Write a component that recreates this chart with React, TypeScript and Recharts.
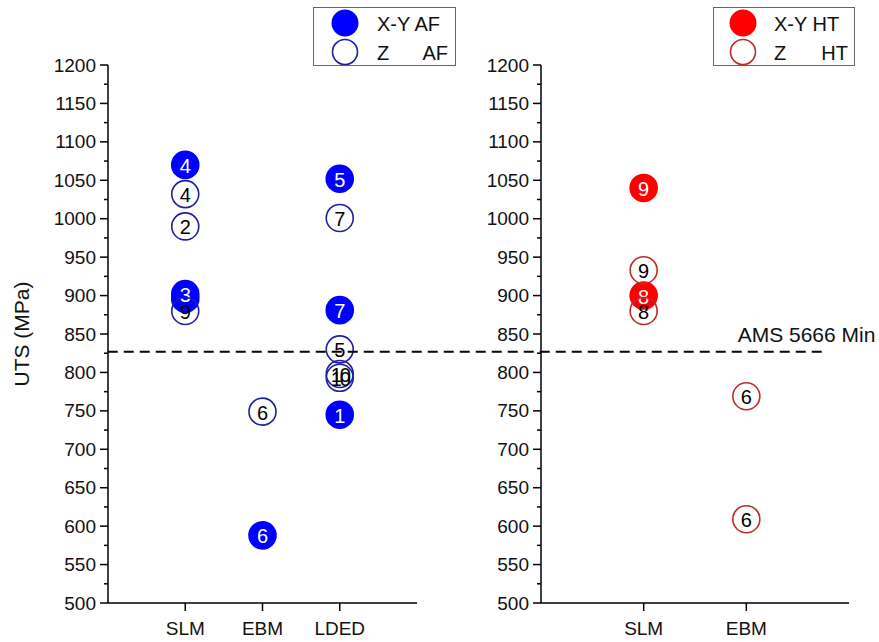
import React from 'react';
import { ScatterChart, Scatter, XAxis, YAxis, ReferenceLine, Legend } from 'recharts';

// ---- data ----
const leftCategories = ['SLM', 'EBM', 'LDED'];
const rightCategories = ['SLM', 'EBM'];
const yTicks = [500, 525, 550, 575, 600, 625, 650, 675, 700, 725, 750, 775, 800, 825, 850, 875, 900, 925, 950, 975, 1000, 1025, 1050, 1075, 1100, 1125, 1150, 1175, 1200];

const xyAFCat = ['SLM', 'SLM', 'SLM', 'EBM', 'LDED', 'LDED', 'LDED'];
const xyAFVal = [1070, 896, 902, 588, 1052, 881, 745];
const xyAFRef = ['4', '8', '3', '6', '5', '7', '1'];

const zAFCat = ['SLM', 'SLM', 'SLM', 'EBM', 'LDED', 'LDED', 'LDED', 'LDED'];
const zAFVal = [1032, 990, 880, 749, 1001, 830, 798, 793];
const zAFRef = ['4', '2', '9', '6', '7', '5', '10', '10'];

const xyHTCat = ['SLM', 'SLM'];
const xyHTVal = [1040, 900];
const xyHTRef = ['9', '8'];

const zHTCat = ['SLM', 'SLM', 'EBM', 'EBM'];
const zHTVal = [933, 880, 769, 609];
const zHTRef = ['9', '8', '6', '6'];

const amsMin = 827;
const amsLabel = 'AMS 5666 Min';

const build = (cats: string[], names: string[], vals: number[], refs: string[]) =>
  names.map((c, i) => ({ x: cats.indexOf(c) + 1, y: vals[i], ref: refs[i] }));

const FONT = "Arial, 'Liberation Sans', sans-serif";

const makeShape = (fill: string, stroke: string, textColor: string) => (props: any) => {
  const { cx, cy, payload } = props;
  const two = payload.ref.length > 1;
  return (
    <g>
      <circle cx={cx} cy={cy} r={13.5} fill={fill} stroke={stroke} strokeWidth={1.6} />
      <text x={cx} y={cy + 1} textAnchor="middle" dominantBaseline="central" fill={textColor}
        fontSize={20} fontFamily={FONT} letterSpacing={two ? -2 : 0}>{payload.ref}</text>
    </g>
  );
};

const YTick = (props: any) => {
  const { x, y, payload } = props;
  const major = payload.value % 50 === 0;
  return (
    <g>
      <line x1={x - (major ? 8 : 4)} x2={x} y1={y} y2={y} stroke="#000" strokeWidth={1.5} />
      {major && (
        <text x={x - 12} y={y} textAnchor="end" dominantBaseline="central" fontSize={19} fontFamily={FONT} fill="#111">
          {payload.value}
        </text>
      )}
    </g>
  );
};

const makeXTick = (names: string[]) => (props: any) => {
  const { x, y, payload } = props;
  return (
    <g>
      <line x1={x} x2={x} y1={y} y2={y + 8} stroke="#000" strokeWidth={1.5} />
      <text x={x} y={y + 25} textAnchor="middle" dominantBaseline="central" fontSize={19} fontFamily={FONT} fill="#111">
        {names[payload.value - 1]}
      </text>
    </g>
  );
};

const LegendBox = ({ fill, stroke, a, b, w, cxo, tx }: any) => (
  <svg width={w + 1} height={59} style={{ display: 'block' }}>
    <rect x={0.5} y={0.5} width={w} height={58} fill="#fff" stroke="#666" strokeWidth={1} />
    <circle cx={cxo} cy={16} r={13.5} fill={fill} />
    <circle cx={cxo} cy={45} r={12.5} fill="none" stroke={stroke} strokeWidth={1.6} />
    <text x={tx} y={17} dominantBaseline="central" fontSize={20} fontFamily={FONT} fill="#111">X-Y {a}</text>
    <text x={tx} y={46} dominantBaseline="central" fontSize={20} fontFamily={FONT} fill="#111">Z</text>
    <text x={135} y={46} textAnchor="end" dominantBaseline="central" fontSize={20} fontFamily={FONT} fill="#111">{b}</text>
  </svg>
);

const axisLine = { stroke: '#000', strokeWidth: 1.5 };

export default function App() {
  const xyAF = build(leftCategories, xyAFCat, xyAFVal, xyAFRef);
  const zAF = build(leftCategories, zAFCat, zAFVal, zAFRef);
  const xyHT = build(rightCategories, xyHTCat, xyHTVal, xyHTRef);
  const zHT = build(rightCategories, zHTCat, zHTVal, zHTRef);

  return (
    <div style={{ position: 'absolute', left: 0, top: 0, width: 879, height: 642, background: '#fff', fontFamily: FONT }}>
      <div style={{ position: 'absolute', left: 0, top: 0 }}>
        <ScatterChart width={879} height={642} margin={{ top: 65, right: 462, bottom: 9, left: 8 }}>
          <XAxis type="number" dataKey="x" domain={[0, 4]} ticks={[1, 2, 3]} allowDataOverflow
            tickSize={0} tickMargin={0} tickLine={false} axisLine={axisLine} height={30}
            tick={makeXTick(leftCategories)} interval={0} />
          <YAxis type="number" dataKey="y" domain={[500, 1200]} ticks={yTicks} allowDataOverflow
            tickSize={0} tickMargin={0} tickLine={false} axisLine={axisLine} width={100}
            tick={<YTick />} interval={0}
            label={{ value: 'UTS (MPa)', angle: -90, position: 'insideLeft', offset: 14, fontSize: 21, fill: '#111', fontFamily: FONT, style: { textAnchor: 'middle' } }} />
          <Legend layout="horizontal" verticalAlign="middle" align="center"
            wrapperStyle={{ position: 'absolute', left: 313, top: 7, width: 143, height: 59 }}
            content={() => <LegendBox fill="#0000ff" stroke="#1f1f9f" a="AF" b="AF" w={142} cxo={32} tx={64} />} />
          <Scatter name="X-Y AF" data={xyAF} isAnimationActive={false} shape={makeShape('#0000ff', '#0000ff', '#ffffff')} />
          <Scatter name="Z AF" data={zAF} isAnimationActive={false} shape={makeShape('none', '#1f1f9f', '#000000')} />
        </ScatterChart>
      </div>
      <div style={{ position: 'absolute', left: 0, top: 0 }}>
        <ScatterChart width={879} height={642} margin={{ top: 65, right: 30, bottom: 9, left: 441 }}>
          <XAxis type="number" dataKey="x" domain={[0, 3]} ticks={[1, 2]} allowDataOverflow
            tickSize={0} tickMargin={0} tickLine={false} axisLine={axisLine} height={30}
            tick={makeXTick(rightCategories)} interval={0} />
          <YAxis type="number" dataKey="y" domain={[500, 1200]} ticks={yTicks} allowDataOverflow
            tickSize={0} tickMargin={0} tickLine={false} axisLine={axisLine} width={100}
            tick={<YTick />} interval={0} />
          <Legend layout="horizontal" verticalAlign="middle" align="center"
            wrapperStyle={{ position: 'absolute', left: 713, top: 7, width: 142, height: 59 }}
            content={() => <LegendBox fill="#ff0000" stroke="#c02a2a" a="HT" b="HT" w={141} cxo={30} tx={61} />} />
          <Scatter name="X-Y HT" data={xyHT} isAnimationActive={false} shape={makeShape('#ff0000', '#ff0000', '#ffffff')} />
          <Scatter name="Z HT" data={zHT} isAnimationActive={false} shape={makeShape('none', '#c02a2a', '#000000')} />
          <ReferenceLine ifOverflow="visible" stroke="#000" strokeWidth={2} strokeDasharray="10 6"
            segment={[{ x: -4.22, y: amsMin }, { x: 2.78, y: amsMin }]}
            label={{
              content: (p: any) => {
                const vb = p.viewBox || { x: 0, y: 0, width: 0 };
                return (
                  <text x={vb.x + vb.width + 49} y={vb.y - 17} textAnchor="end" dominantBaseline="central"
                    fontSize={21} fontFamily={FONT} fill="#111">{amsLabel}</text>
                );
              },
            }} />
        </ScatterChart>
      </div>
    </div>
  );
}
